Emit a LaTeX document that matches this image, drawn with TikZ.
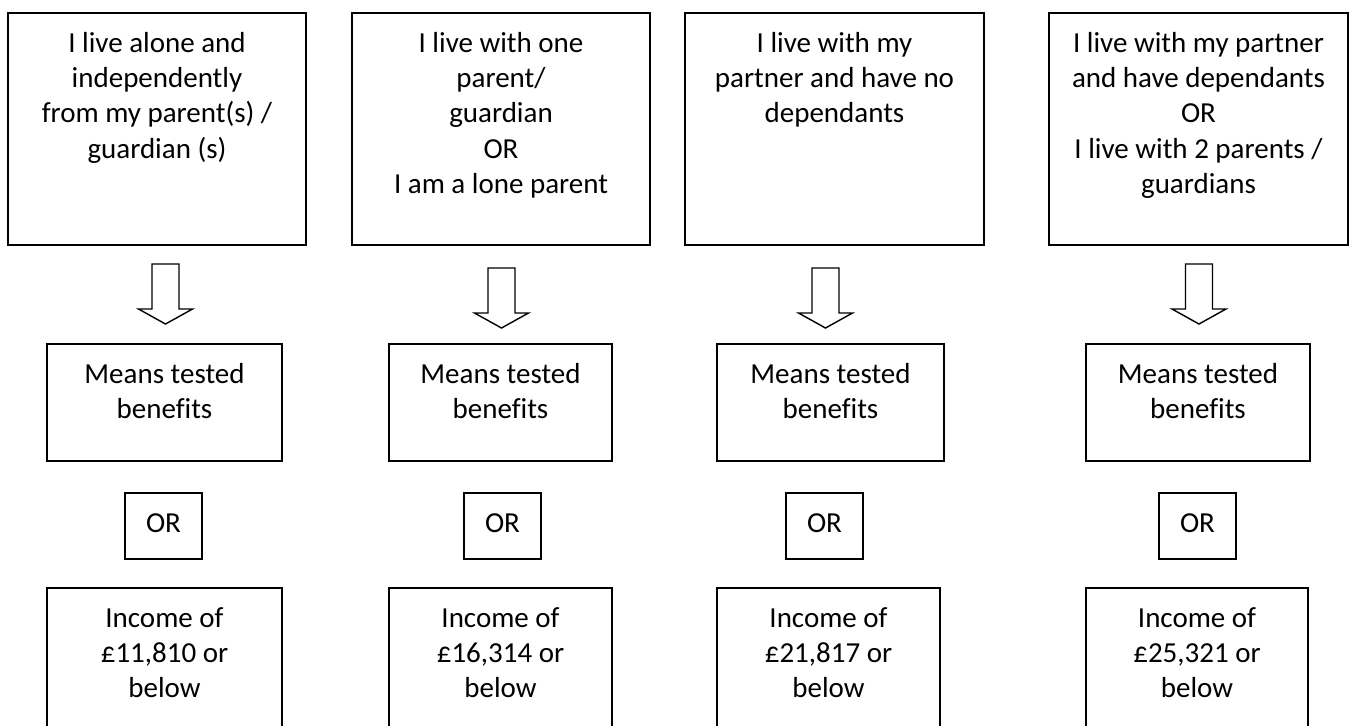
\documentclass[tikz,border=0pt]{standalone}
\usepackage{fontspec}
\setmainfont{Carlito}[Ligatures=NoCommon]
\newcommand{\mylines}[1]{\parbox[t]{8cm}{\centering #1}}
\begin{document}
\begin{tikzpicture}[x=0.02cm,y=-0.02cm,
  box/.style={draw=black,line width=1.1pt,rectangle,inner sep=0pt,outer sep=0pt},
  txt/.style={anchor=base,inner sep=0pt,font=\fontsize{16.5pt}{20.2pt}\selectfont},
  arrowline/.style={draw=black,line width=0.8pt,fill=white,line join=miter},
  pics/blockarrow/.style={code={
    \draw[arrowline] (-13.5,0) -- (13.5,0) -- (13.5,45) -- (27,45) -- (0,60)
      -- (-27,45) -- (-13.5,45) -- cycle;}}
]
\useasboundingbox (0,0) rectangle (1352,725);
\clip (0,0) rectangle (1352,725);
\fill[white] (0,0) rectangle (1352,725);

% top boxes
\node[box,minimum width=5.96cm,minimum height=4.64cm] (top1) at (157,129) {};
\node[box,minimum width=5.96cm,minimum height=4.64cm] (top2) at (501,129) {};
\node[box,minimum width=5.98cm,minimum height=4.64cm] (top3) at (834.5,129) {};
\node[box,minimum width=5.98cm,minimum height=4.64cm] (top4) at (1198.5,129) {};

\node[txt] (top1t) at (157,52) {\mylines{I live alone and\\independently\\from my parent(s) /\\guardian (s)}};
\node[txt] (top2t) at (501,52) {\mylines{I live with one\\parent/\\guardian\\OR\\I am a lone parent}};
\node[txt] (top3t) at (834.5,52) {\mylines{I live with my\\partner and have no\\dependants}};
\node[txt] (top4t) at (1198.5,52) {\mylines{I live with my partner\\and have dependants\\OR\\I live with 2 parents /\\guardians}};

% block arrows
\coordinate (a1) at (165.5,264);
\coordinate (a2) at (501.5,268);
\coordinate (a3) at (825.5,268);
\coordinate (a4) at (1199,264);
\pic at (a1) {blockarrow};
\pic at (a2) {blockarrow};
\pic at (a3) {blockarrow};
\pic at (a4) {blockarrow};

% means tested boxes
\node[box,minimum width=4.70cm,minimum height=2.34cm] (mean1) at (164.5,402.5) {};
\node[box,minimum width=4.46cm,minimum height=2.34cm] (mean2) at (500.5,402.5) {};
\node[box,minimum width=4.54cm,minimum height=2.34cm] (mean3) at (830.5,402.5) {};
\node[box,minimum width=4.48cm,minimum height=2.34cm] (mean4) at (1198,402.5) {};
\node[txt] (mean1t) at (164.5,383) {\mylines{Means tested\\benefits}};
\node[txt] (mean2t) at (500.5,383) {\mylines{Means tested\\benefits}};
\node[txt] (mean3t) at (830.5,383) {\mylines{Means tested\\benefits}};
\node[txt] (mean4t) at (1198,383) {\mylines{Means tested\\benefits}};

% OR boxes
\node[box,minimum width=1.54cm,minimum height=1.32cm] (or1) at (163.5,526) {};
\node[box,minimum width=1.54cm,minimum height=1.32cm] (or2) at (502.5,526) {};
\node[box,minimum width=1.54cm,minimum height=1.32cm] (or3) at (824.5,526) {};
\node[box,minimum width=1.54cm,minimum height=1.32cm] (or4) at (1197.5,526) {};
\node[txt] (or1t) at (163.5,532) {OR};
\node[txt] (or2t) at (502.5,532) {OR};
\node[txt] (or3t) at (824.5,532) {OR};
\node[txt] (or4t) at (1197.5,532) {OR};

% income boxes
\node[box,minimum width=4.70cm,minimum height=3.04cm] (inc1) at (164.5,664) {};
\node[box,minimum width=4.46cm,minimum height=3.04cm] (inc2) at (500.5,664) {};
\node[box,minimum width=4.46cm,minimum height=3.04cm] (inc3) at (828.5,664) {};
\node[box,minimum width=4.44cm,minimum height=3.04cm] (inc4) at (1197,664) {};
\node[txt] (inc1t) at (164.5,627) {\mylines{Income of\\£11,810 or\\below}};
\node[txt] (inc2t) at (500.5,627) {\mylines{Income of\\£16,314 or\\below}};
\node[txt] (inc3t) at (828.5,627) {\mylines{Income of\\£21,817 or\\below}};
\node[txt] (inc4t) at (1197,627) {\mylines{Income of\\£25,321 or\\below}};
\end{tikzpicture}
\end{document}
